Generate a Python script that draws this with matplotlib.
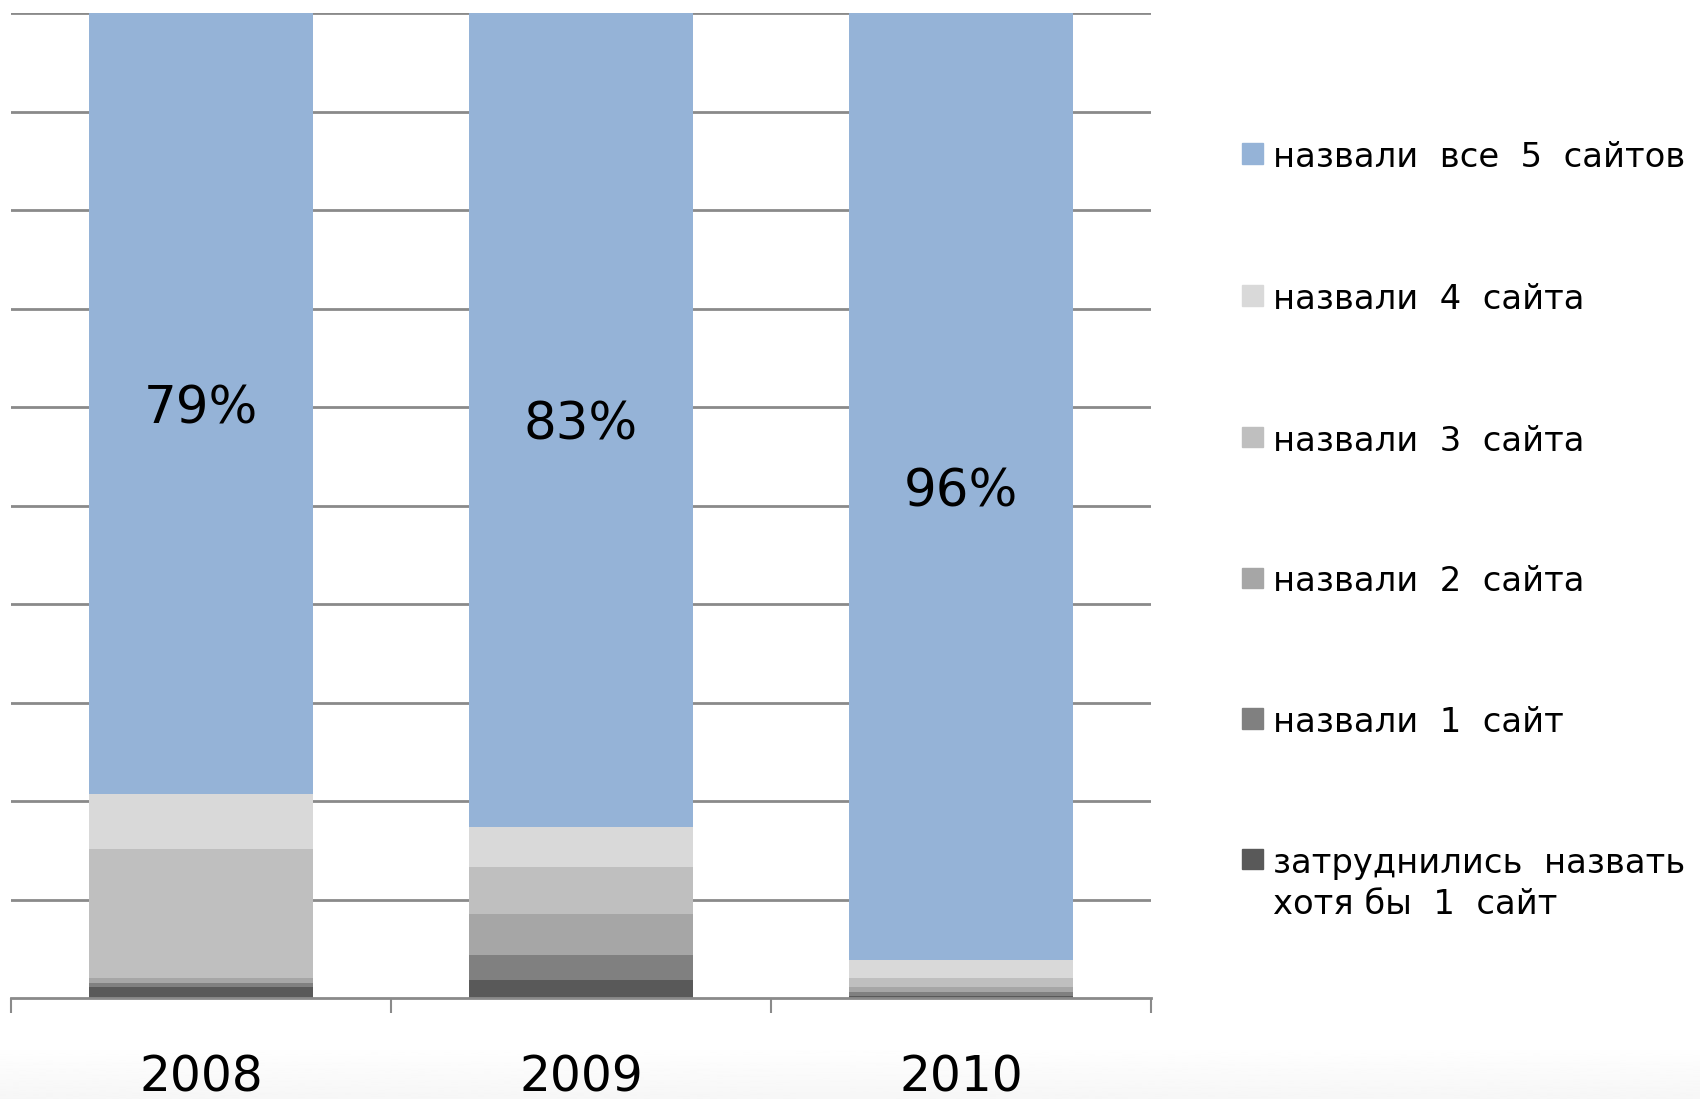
import matplotlib
matplotlib.use("Agg")
import matplotlib.pyplot as plt
from matplotlib.patches import Rectangle
import numpy as np

years = ["2008", "2009", "2010"]
labels = ["затруднились  назвать\nхотя бы  1  сайт", "назвали  1  сайт", "назвали  2  сайта",
          "назвали  3  сайта", "назвали  4  сайта", "назвали  все  5  сайтов"]
colors = ["#595959", "#808080", "#A6A6A6", "#BFBFBF", "#D9D9D9", "#95B3D7"]

# shares per year, bottom to top
none_named = [1.1, 1.9, 0.25]
one_site = [0.5, 2.5, 0.4]
two_sites = [0.5, 4.2, 0.5]
three_sites = [13.1, 4.7, 0.9]
four_sites = [5.5, 4.1, 1.8]
five_sites = [79.3, 82.6, 96.15]
pct_labels = ["79%", "83%", "96%"]

series = [none_named, one_site, two_sites, three_sites, four_sites, five_sites]

fig = plt.figure(figsize=(17, 10.99), dpi=100)

# faint grey fade at the very bottom
bg = fig.add_axes([0, 0, 1, 0.05], zorder=-10)
bg.imshow(np.linspace(1.0, 0.965, 50).reshape(-1, 1), cmap="gray", vmin=0, vmax=1,
          aspect="auto", extent=[0, 1, 0, 1])
bg.axis("off")

ax = fig.add_axes([0.0064, 0.0916, 0.6706, 0.8966])
ax.patch.set_alpha(0)

x = np.arange(len(years))
bottom = np.zeros(len(years))
for vals, c in zip(series, colors):
    ax.bar(x, vals, bottom=bottom, width=0.59, color=c, zorder=3, linewidth=0)
    bottom += np.array(vals)

# percent labels in the middle of the top segment
tops = bottom - np.array(five_sites)
for xi, b, v, t in zip(x, tops, five_sites, pct_labels):
    ax.text(xi, b + v / 2, t, ha="center", va="center_baseline", fontsize=37, color="black", zorder=4)

ax.set_xlim(-0.5, 2.5)
ax.set_ylim(0, 100)
ax.set_yticks(np.arange(10, 101, 10))
ax.yaxis.grid(True, color="#8a8a8a", linewidth=2, zorder=1)
ax.tick_params(axis="y", left=False, labelleft=False)
for s in ["left", "right", "top"]:
    ax.spines[s].set_visible(False)
ax.spines["bottom"].set_color("#8a8a8a")
ax.spines["bottom"].set_linewidth(2)
ax.spines["bottom"].set_zorder(5)

ax.set_xticks(x)
ax.set_xticklabels(years, fontsize=35)
ax.tick_params(axis="x", which="major", length=0, pad=40)
ax.set_xticks([-0.5, 0.5, 1.5, 2.5], minor=True)
ax.tick_params(axis="x", which="minor", length=11, width=1.5, color="#8a8a8a", direction="out")

# legend drawn by hand, top entry first
leg_y = [0.860, 0.731, 0.602, 0.474, 0.346, 0.218]
for lab, c, yy in zip(labels[::-1], colors[::-1], leg_y):
    fig.patches.append(Rectangle((0.7305, yy - 0.009), 0.0125, 0.0185, transform=fig.transFigure,
                                 color=c, figure=fig))
    fig.text(0.749, yy + 0.0115, lab, fontsize=24.3, va="top", ha="left", linespacing=1.3)

fig.savefig("out.png", dpi=100)
